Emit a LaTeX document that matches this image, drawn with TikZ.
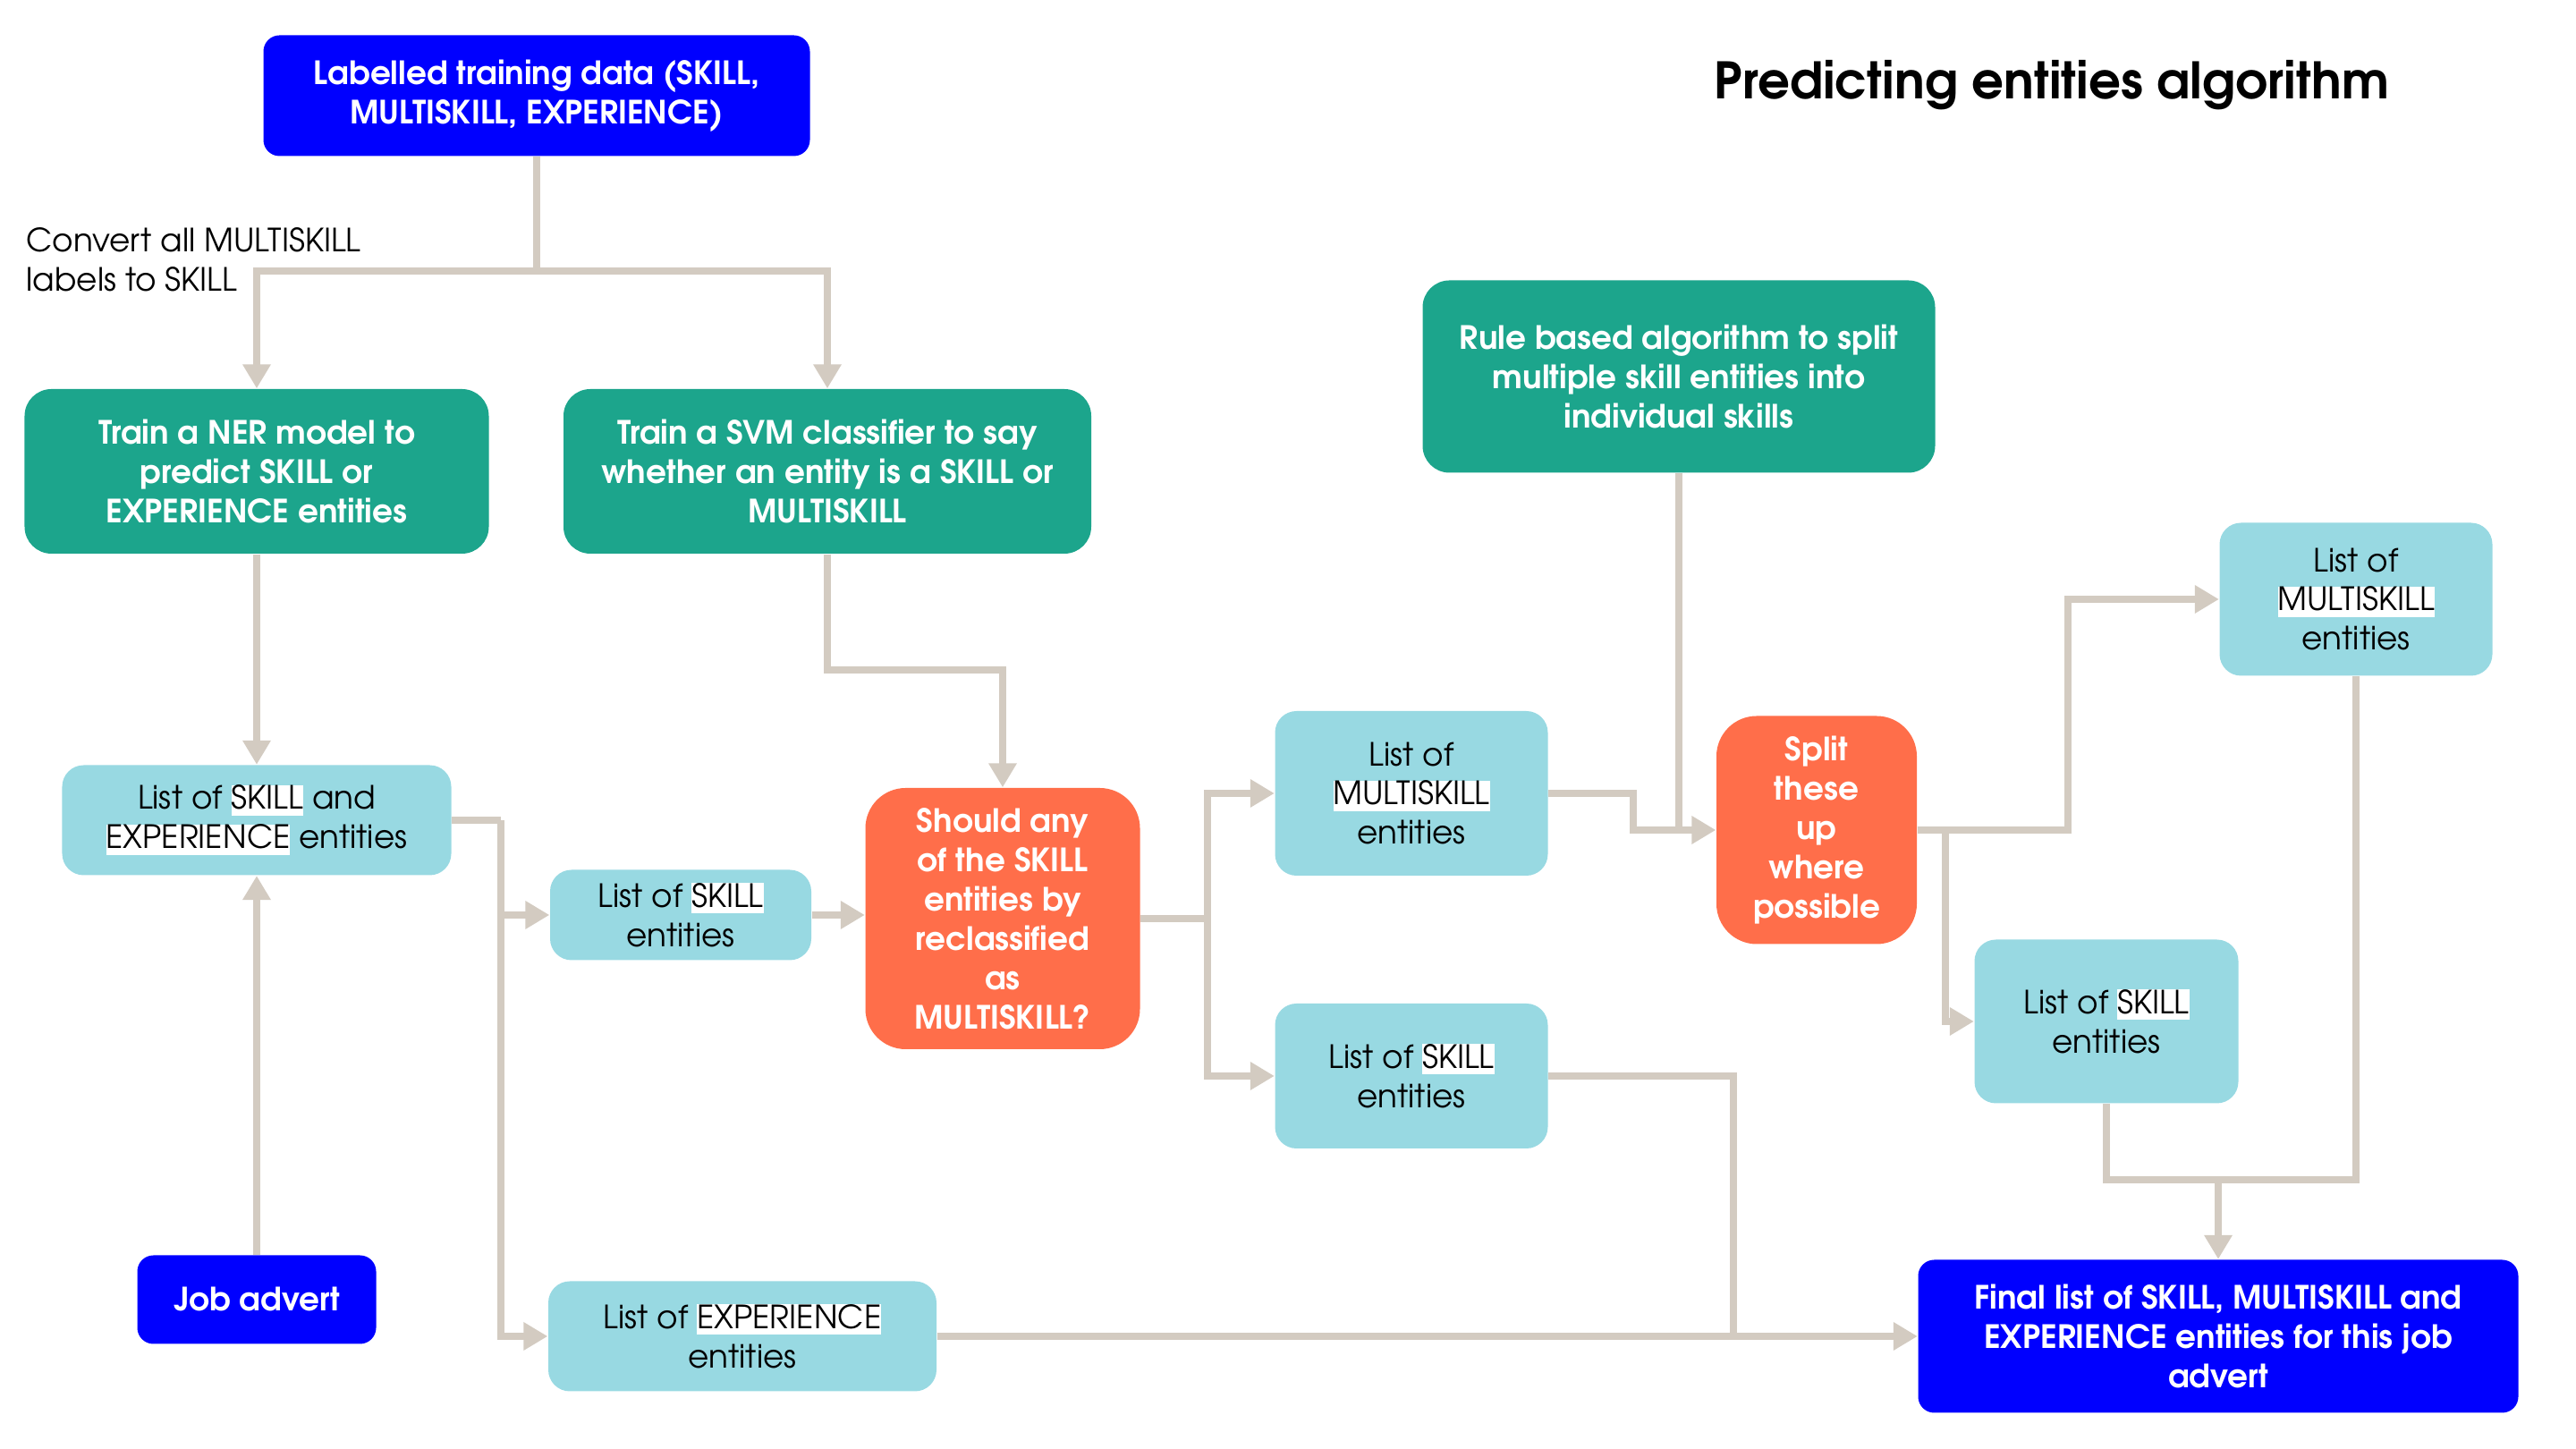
\documentclass[tikz,border=0pt]{standalone}
\usepackage{fontspec}
\setmainfont{texgyreadventor}[Extension=.otf, UprightFont=*-regular, BoldFont=*-bold, ItalicFont=*-italic, BoldItalicFont=*-bolditalic]
\usetikzlibrary{arrows.meta}

\definecolor{advblue}{HTML}{0000FF}
\definecolor{modelteal}{HTML}{1CA58C}
\definecolor{stepred}{HTML}{FF6E4A}
\definecolor{listblue}{HTML}{98D9E2}
\definecolor{flowgrey}{HTML}{D3CBC1}

% white highlight behind the entity names
\newcommand{\hl}[1]{{\setlength{\fboxsep}{0pt}\colorbox{white}{\rule[-2pt]{0pt}{9.6pt}#1}}}

\tikzset{
  box/.style={align=center, inner sep=0pt, font=\fontsize{10.2}{12.5}\selectfont},
  inbox/.style={box, fill=advblue, text=white, font=\fontsize{10.2}{12.5}\selectfont\bfseries, rounded corners=0.18cm},
  modelbox/.style={box, fill=modelteal, text=white, font=\fontsize{10.2}{12.5}\selectfont\bfseries, rounded corners=0.3cm},
  stepbox/.style={box, fill=stepred, text=white, font=\fontsize{10.2}{12.5}\selectfont\bfseries, rounded corners=0.45cm},
  listbox/.style={box, fill=listblue, text=black, rounded corners=0.24cm},
  flow/.style={draw=flowgrey, line width=0.08cm},
}

\begin{document}
\begin{tikzpicture}[-{Triangle[length=0.27cm,width=0.3cm]}]
  \useasboundingbox (0,0) rectangle (28.8,16.2);
  \path
    (6.00,15.13) node[inbox, minimum width=6.11cm, minimum height=1.35cm] (data){Labelled training data (SKILL,\\MULTISKILL, EXPERIENCE)}
    (22.94,15.25) node[font=\fontsize{16}{19}\selectfont\bfseries] (title){Predicting entities algorithm}
    (0.29,13.30) node[anchor=west, align=left, inner sep=0pt, font=\fontsize{10.2}{12.5}\selectfont] (convert){Convert all MULTISKILL\\labels to SKILL}
    (2.87,10.93) node[modelbox, minimum width=5.19cm, minimum height=1.84cm] (ner){Train a NER model to\\predict SKILL or\\EXPERIENCE entities}
    (9.25,10.93) node[modelbox, minimum width=5.90cm, minimum height=1.84cm] (svm){Train a SVM classifier to say\\whether an entity is a SKILL or\\MULTISKILL}
    (18.77,11.99) node[modelbox, minimum width=5.73cm, minimum height=2.15cm] (rule){Rule based algorithm to split\\multiple skill entities into\\individual skills}
    (2.87,7.03) node[listbox, minimum width=4.35cm, minimum height=1.23cm] (skexp){List of \hl{SKILL} and\\\hl{EXPERIENCE} entities}
    (7.61,5.97) node[listbox, minimum width=2.92cm, minimum height=1.01cm] (skill1){List of \hl{SKILL}\\entities}
    (11.21,5.93) node[stepbox, minimum width=3.07cm, minimum height=2.92cm] (should){Should any\\of the SKILL\\entities by\\reclassified\\as\\MULTISKILL?}
    (15.78,7.33) node[listbox, minimum width=3.05cm, minimum height=1.84cm] (multi1){List of\\\hl{MULTISKILL}\\entities}
    (15.78,4.17) node[listbox, minimum width=3.05cm, minimum height=1.62cm] (skill2){List of \hl{SKILL}\\entities}
    (20.31,6.92) node[stepbox, minimum width=2.24cm, minimum height=2.55cm] (split){Split\\these\\up\\where\\possible}
    (26.34,9.50) node[listbox, minimum width=3.05cm, minimum height=1.71cm] (multi2){List of\\\hl{MULTISKILL}\\entities}
    (23.55,4.78) node[listbox, minimum width=2.95cm, minimum height=1.83cm] (skill3){List of \hl{SKILL}\\entities}
    (24.80,1.26) node[inbox, minimum width=6.71cm, minimum height=1.71cm] (final){Final list of SKILL, MULTISKILL and\\EXPERIENCE entities for this job\\advert}
    (2.87,1.67) node[inbox, minimum width=2.67cm, minimum height=0.99cm] (job){Job advert}
    (8.30,1.26) node[listbox, minimum width=4.34cm, minimum height=1.23cm] (exp){List of \hl{EXPERIENCE}\\entities};
  % junctions of the connectors
  \coordinate (fork) at (6.00,13.17);
  \coordinate (lists) at (5.60,7.03);
  \coordinate (svmbend) at (9.25,8.71);
  \coordinate (answer) at (13.50,5.93);
  \coordinate (multibend) at (18.26,6.92);
  \coordinate (up) at (23.12,6.92);
  \coordinate (down) at (21.75,6.92);
  \coordinate (merge) at (24.80,3.01);
  \coordinate (skillbend) at (19.38,1.26);
  \begin{scope}[flow]
    \draw[-] (data) -- (fork);
    \draw (fork) -| (ner);
    \draw (fork) -| (svm);
    \draw (ner) -- (skexp);
    \draw (job) -- (skexp);
    \draw[-] (skexp) -- (lists);
    \draw (lists) |- (skill1);
    \draw (lists) |- (exp);
    \draw (svm) -- (svmbend) -| (should);
    \draw (skill1.east) -- (skill1.east -| should.west);
    \draw[-] (should) -- (answer);
    \draw (answer) |- (multi1);
    \draw (answer) |- (skill2);
    \draw (multi1) -| (multibend) -- (split);
    \draw[-] (rule) -- (rule |- split.west);
    \draw (split.east) -- (up) |- (multi2);
    \draw (down) |- (skill3);
    \draw[-] (skill3) |- (merge) -| (multi2);
    \draw (merge) -- (final);
    \draw[-] (skill2) -| (skillbend);
    \draw (exp) -- (final);
  \end{scope}
\end{tikzpicture}
\end{document}
